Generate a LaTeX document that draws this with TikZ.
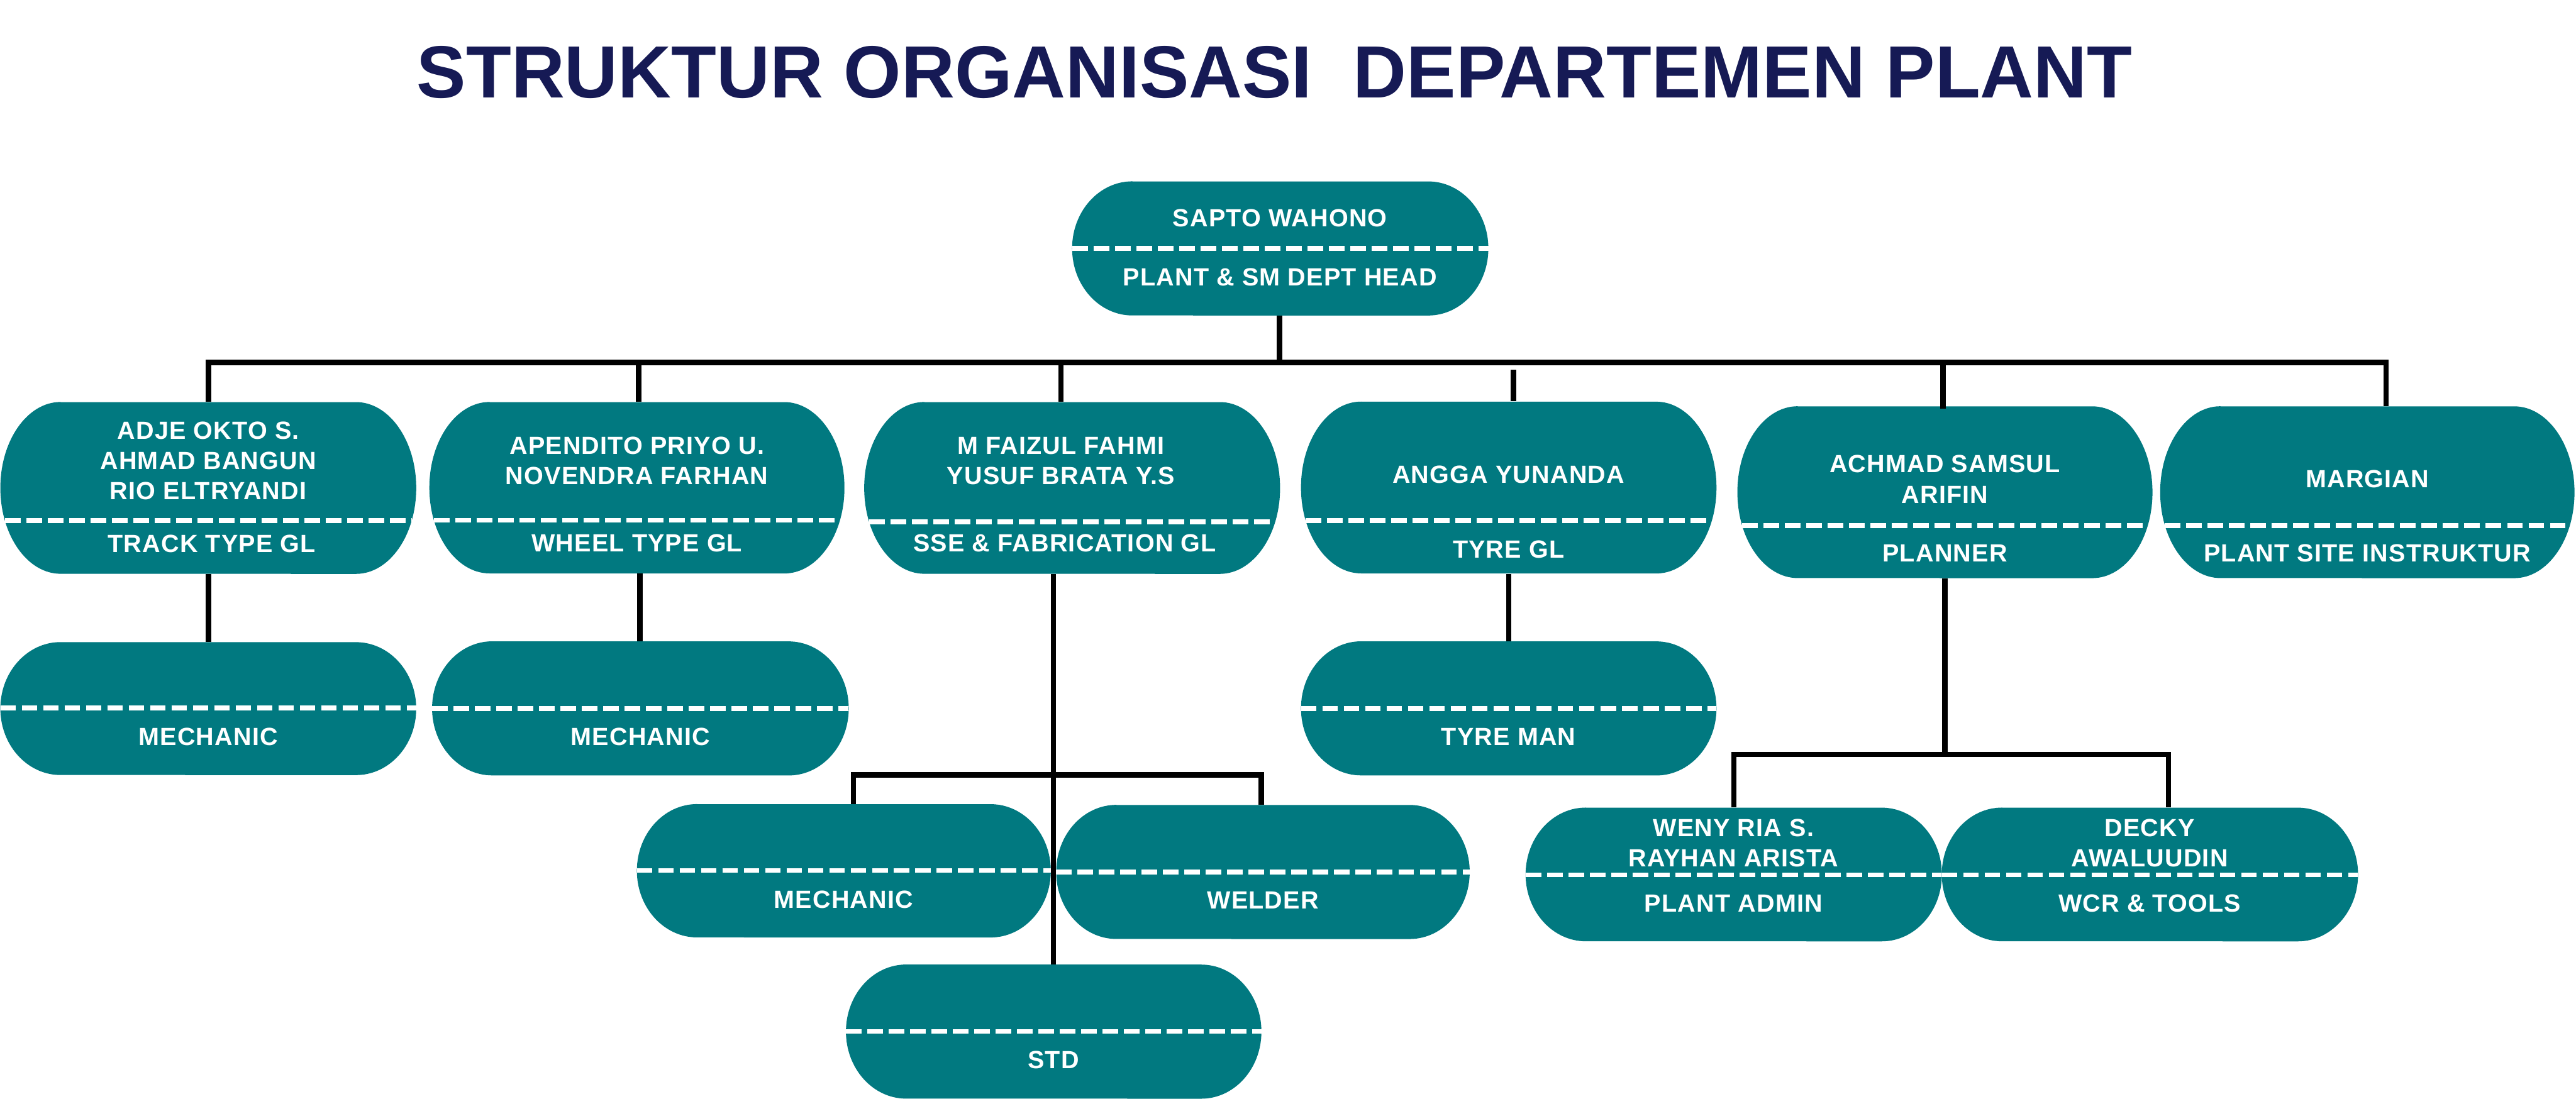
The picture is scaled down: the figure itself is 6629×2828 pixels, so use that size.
\documentclass[tikz,border=0pt]{standalone}
\usepackage{fontspec}
\newfontfamily\boxfont[LetterSpace=3]{Liberation Sans}
\newfontfamily\titlefont{Liberation Sans}
\definecolor{boxteal}{HTML}{017980}
\definecolor{titlenavy}{HTML}{161A55}
\tikzset{
  boxfill/.style={fill=boxteal},
  dashline/.style={draw=white, line width=0.12cm, dash pattern=on 0.40cm off 0.15cm},
  conn/.style={draw=black, line width=0.14cm, line join=miter},
  boxtext/.style={text=white, inner sep=0pt, anchor=base, font=\boxfont\bfseries\fontsize{18.2}{22}\selectfont},
}
% name, x0, x1, ytop, ybottom, ydash   (pixel units, y downwards)
\newcommand\orgbox[6]{%
  \pgfmathsetmacro\oby{(#5-#4)/2}%
  \pgfmathsetmacro\obr{(#5-#4)/200}%
  \pgfmathsetmacro\obm{(#5+#4)/2}%
  \pgfmathsetmacro\obd{155*(1-sqrt(1-((#6-\obm)/\oby)^2))}%
  \pgfmathsetmacro\obw{(#3-#2)/100}%
  \fill[boxfill] ({#2+155},-#4) -- ({#3-155},-#4)
     arc[start angle=90,end angle=-90,x radius=1.55cm,y radius=\obr cm]
     -- ({#2+155},-#5)
     arc[start angle=270,end angle=90,x radius=1.55cm,y radius=\obr cm] -- cycle;
  \draw[dashline] ({#2+\obd},-#6) -- ({#3-\obd},-#6);
  \node[inner sep=0pt, minimum width=\obw cm, minimum height=\obr cm*2] (#1) at ({(#2+#3)/2},{-\obm}) {};
}
% name, x, y (cap centre), text
\newcommand\tline[4]{\node[boxtext] (#1) at (#2,{-(#3+23)}) {#4};}
\begin{document}
\begin{tikzpicture}[x=0.01cm,y=0.01cm]
\fill[white] (0,0) rectangle (6629,-2828);
\useasboundingbox (0,0) rectangle (6629,-2828);

\node[anchor=base, inner sep=0pt, text=titlenavy, font=\titlefont\bfseries\fontsize{54.1}{60}\selectfont] (title) at (3280,-252) {STRUKTUR ORGANISASI\ \ DEPARTEMEN PLANT};

% boxes
\orgbox{top}{2759}{3830}{467}{812}{639}
\orgbox{adje}{1}{1071}{1035}{1477}{1340}
\orgbox{apendito}{1105}{2173}{1035}{1476}{1339}
\orgbox{faizul}{2224}{3294}{1035}{1477}{1343}
\orgbox{angga}{3348}{4417}{1034}{1476}{1340}
\orgbox{achmad}{4471}{5539}{1046}{1488}{1353}
\orgbox{margian}{5559}{6625}{1046}{1488}{1353}
\orgbox{mechA}{1}{1071}{1653}{1995}{1822}
\orgbox{mechB}{1112}{2184}{1651}{1996}{1824}
\orgbox{tyreman}{3348}{4417}{1651}{1996}{1824}
\orgbox{mechC}{1639}{2704}{2070}{2413}{2241}
\orgbox{welder}{2718}{3782}{2072}{2417}{2245}
\orgbox{std}{2177}{3246}{2483}{2828}{2655}
\orgbox{weny}{3926}{4997}{2079}{2423}{2252}
\orgbox{decky}{4997}{6068}{2079}{2423}{2252}

% texts
\tline{topA}{3294}{560}{SAPTO WAHONO}
\tline{topB}{3294}{712}{PLANT \& SM DEPT HEAD}
\tline{adjeA}{536}{1107}{ADJE OKTO S.}
\tline{adjeB}{536}{1185}{AHMAD BANGUN}
\tline{adjeC}{536}{1263}{RIO ELTRYANDI}
\tline{adjeD}{545}{1398}{TRACK TYPE GL}
\tline{apA}{1639}{1147}{APENDITO PRIYO U.}
\tline{apB}{1639}{1224}{NOVENDRA FARHAN}
\tline{apC}{1639}{1397}{WHEEL TYPE GL}
\tline{faA}{2730}{1147}{M FAIZUL FAHMI}
\tline{faB}{2730}{1224}{YUSUF BRATA Y.S}
\tline{faC}{2740}{1397}{SSE \& FABRICATION GL}
\tline{anA}{3882}{1220}{ANGGA YUNANDA}
\tline{anB}{3882}{1413}{TYRE GL}
\tline{acA}{5005}{1193}{ACHMAD SAMSUL}
\tline{acB}{5005}{1272}{ARIFIN}
\tline{acC}{5005}{1423}{PLANNER}
\tline{maA}{6092}{1232}{MARGIAN}
\tline{maB}{6092}{1423}{PLANT SITE INSTRUKTUR}
\tline{meA}{536}{1896}{MECHANIC}
\tline{meB}{1648}{1896}{MECHANIC}
\tline{tyA}{3882}{1896}{TYRE MAN}
\tline{meC}{2171}{2314}{MECHANIC}
\tline{weA}{3250}{2317}{WELDER}
\tline{stA}{2711}{2727}{STD}
\tline{wnA}{4461}{2131}{WENY RIA S.}
\tline{wnB}{4461}{2208}{RAYHAN ARISTA}
\tline{wnC}{4461}{2325}{PLANT ADMIN}
\tline{dkA}{5532}{2131}{DECKY}
\tline{dkB}{5532}{2208}{AWALUUDIN}
\tline{dkC}{5532}{2325}{WCR \& TOOLS}

% connector junctions
\coordinate (hubTop) at (3293,-933);
\coordinate (dAdje) at (536,-933);
\coordinate (dApen) at (1644,-933);
\coordinate (dFaiz) at (2730,-933);
\coordinate (dAngg) at (3895,-952);
\coordinate (dAchm) at (5000,-933);
\coordinate (dMarg) at (6140,-933);
\coordinate (dApenB) at (1647,-1476);
\coordinate (sseV) at (2711,-1995);
\coordinate (sseL) at (2196,-1995);
\coordinate (sseR) at (3246,-1995);
\coordinate (plnV) at (5005,-1942);
\coordinate (plnL) at (4462,-1942);
\coordinate (plnR) at (5580,-1942);

% connectors
\draw[conn] (top.south -| hubTop) -- (hubTop);
\draw[conn] (dAdje |- adje.north) -- (dAdje) -- (dMarg) -- (dMarg |- margian.north);
\draw[conn] (dApen) -- (dApen |- apendito.north);
\draw[conn] (dFaiz) -- (dFaiz |- faizul.north);
\draw[conn] (dAngg) -- (dAngg |- angga.north);
\draw[conn] (dAchm) -- ([yshift=-0.07cm]dAchm |- achmad.north);
\draw[conn] (adje.south) -- (mechA.north);
\draw[conn] (dApenB) -- (dApenB |- mechB.north);
\draw[conn] (angga.south) -- (tyreman.north);
\draw[conn] (sseV |- faizul.south) -- (sseV |- std.north);
\draw[conn] (sseL |- mechC.north) -- (sseL) -- (sseR) -- (sseR |- welder.north);
\draw[conn] (plnV |- achmad.south) -- (plnV);
\draw[conn] (plnL |- weny.north) -- (plnL) -- (plnR) -- (plnR |- decky.north);
\end{tikzpicture}
\end{document}
